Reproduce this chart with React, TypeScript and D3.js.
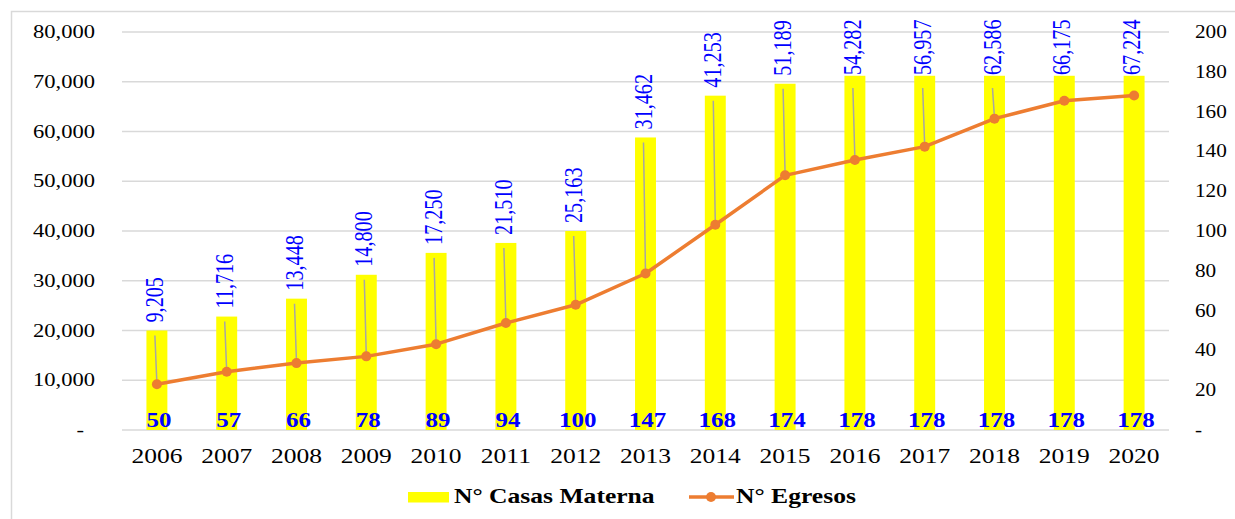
import React from "react";
import * as d3 from "d3";

const years = ["2006","2007","2008","2009","2010","2011","2012","2013","2014","2015","2016","2017","2018","2019","2020"];
const casasMaterna = [50,57,66,78,89,94,100,147,168,174,178,178,178,178,178];
const egresos = [9205,11716,13448,14800,17250,21510,25163,31462,41253,51189,54282,56957,62586,66175,67224];
const leftTicks = [0,10000,20000,30000,40000,50000,60000,70000,80000];
const rightTicks = [0,20,40,60,80,100,120,140,160,180,200];
const seriesNames = ["N° Casas Materna","N° Egresos"];

const W = 1235, H = 519;
const FONT = "'Liberation Serif', 'Times New Roman', serif";
const ORANGE = "#ED7D31";
const BLUE = "#0000FF";
const GRID = "#D9D9D9";

export default function App() {
  const x = d3.scaleBand<string>().domain(years).range([122, 1169]).paddingInner(0.7).paddingOuter(0.35);
  const xc = (y: string) => (x(y) as number) + x.bandwidth() / 2;
  const yL = d3.scaleLinear().domain([0, 80000]).range([430, 32]);
  const yR = d3.scaleLinear().domain([0, 200]).range([430, 32]);
  const fmt = d3.format(",");
  const line = d3.line<number>().x((_, i) => xc(years[i])).y(d => yL(d));

  const st = (tx: number, ty: number, s: number) => `translate(${tx},${ty}) scale(${s},1)`;

  return (
    <svg width={W} height={H} style={{ position: "absolute", left: 0, top: 0, background: "#fff" }} fontFamily={FONT}>
      <rect x={0} y={0} width={W} height={H} fill="#fff" />
      <rect x={11.5} y={11.5} width={W + 20} height={H + 20} fill="none" stroke={GRID} strokeWidth={1.5} />
      {/* gridlines */}
      {leftTicks.map(t => (
        <line key={t} x1={122} x2={1169} y1={yL(t)} y2={yL(t)} stroke={GRID} strokeWidth={1.3} />
      ))}
      {/* left axis labels */}
      {leftTicks.map(t => (
        <text key={"l" + t} transform={st(t === 0 ? 84 : 95, yL(t) + 6, 1.22)} textAnchor="end" fontSize={18.5} fill="#000">
          {t === 0 ? "-" : fmt(t)}
        </text>
      ))}
      {/* right axis labels */}
      {rightTicks.map(t => (
        <text key={"r" + t} transform={st(1195, yR(t) + 6, 1.18)} textAnchor="start" fontSize={18} fill="#000">
          {t === 0 ? "-" : fmt(t)}
        </text>
      ))}
      {/* bars */}
      {casasMaterna.map((v, i) => (
        <rect key={"b" + i} x={x(years[i])} y={yR(v)} width={x.bandwidth()} height={yR(0) - yR(v)} fill="#FFFF00" />
      ))}
      {/* leader lines */}
      {egresos.map((v, i) => {
        const cx = xc(years[i]);
        const barTop = yR(casasMaterna[i]);
        const len = fmt(v).length * 10 - 5;
        const labelEnd = Math.max(barTop - 8, 20 + len);
        const start = labelEnd + 13;
        const py = yL(v);
        if (py - start < 25) return null;
        return <line key={"ll" + i} x1={cx - 2} y1={start} x2={cx} y2={py} stroke="#A6A6A6" strokeWidth={1.5} />;
      })}
      {/* line series */}
      <path d={line(egresos) as string} fill="none" stroke={ORANGE} strokeWidth={3.5} strokeLinejoin="round" />
      {egresos.map((v, i) => (
        <circle key={"m" + i} cx={xc(years[i])} cy={yL(v)} r={5} fill={ORANGE} />
      ))}
      {/* rotated data labels for egresos */}
      {egresos.map((v, i) => {
        const cx = xc(years[i]);
        const barTop = yR(casasMaterna[i]);
        const len = fmt(v).length * 10 - 5;
        const labelEnd = Math.max(barTop - 8, 20 + len);
        return (
          <text key={"el" + i} transform={`translate(${cx - 2 + 8},${labelEnd}) scale(1.25,1) rotate(-90)`} textAnchor="start" fontSize={20.2} fill={BLUE}>
            {fmt(v)}
          </text>
        );
      })}
      {/* bar value labels */}
      {casasMaterna.map((v, i) => (
        <text key={"bl" + i} transform={st(xc(years[i]) + 2, 427, 1.19)} textAnchor="middle" fontSize={21} fontWeight="bold" fill={BLUE}>
          {v}
        </text>
      ))}
      {/* x axis labels */}
      {years.map(y => (
        <text key={"x" + y} transform={st(xc(y), 463, 1.16)} textAnchor="middle" fontSize={22} fill="#000">
          {y}
        </text>
      ))}
      {/* legend */}
      <rect x={408} y={492} width={41} height={10.5} fill="#FFFF00" />
      <text transform={st(454, 503, 1.19)} fontSize={21.5} fontWeight="bold" fill="#000">{seriesNames[0]}</text>
      <line x1={689} x2={734} y1={497} y2={497} stroke={ORANGE} strokeWidth={3.5} />
      <circle cx={711} cy={497} r={5} fill={ORANGE} />
      <text transform={st(736, 503, 1.19)} fontSize={21.5} fontWeight="bold" fill="#000">{seriesNames[1]}</text>
    </svg>
  );
}
